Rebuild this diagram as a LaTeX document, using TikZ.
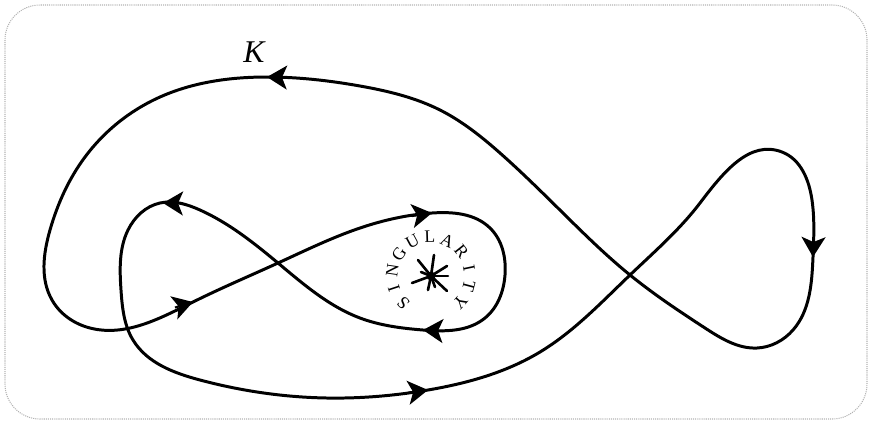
\documentclass[tikz,border=0pt]{standalone}
\usepackage{fontspec}
\setmainfont{Liberation Serif}
\usetikzlibrary{arrows.meta,hobby}

\begin{document}
\begin{tikzpicture}[x=0.02cm, y=-0.02cm,
    knot/.style={line width=1.7pt, line join=round},
    arrowmark/.style={line width=1.2pt, -{Stealth[length=0.4cm,width=0.48cm,inset=0.1cm]}},
    ray/.style={line width=1.5pt, line cap=round},
    letter/.style={font=\fontsize{10}{12}\selectfont, inner sep=-0.5pt}]
    \useasboundingbox (0,0) rectangle (872,424);
    % frame
    \draw[gray!60, line width=0.6pt, dash pattern=on 0.6pt off 0.6pt, rounded corners=0.7cm] (5,5) rectangle (867,419);
    % the curve K
    \draw[knot] plot[closed hobby] coordinates {
      (267,77) (160,97) (85,157) (50,230) (52,300) (90,328) (193,302) (278,263)
      (360,228) (432,213) (490,228) (505,275) (485,318) (423,330) (360,318) (278,263)
      (200,210) (160,203) (128,230) (121,290) (133,340) (200,380) (327,398) (428,390)
      (540,352) (630,275) (700,203) (782,152) (812,200) (813,257) (793,330) (757,348)
      (705,328) (630,275) (567,217) (500,153) (440,110) (360,86)};
    \node[font=\fontsize{18}{20}\selectfont\itshape] (klabel) at (254,52) {K};
    % arrow heads
    \foreach \ax/\ay/\bx/\by in {286/77.5/267/77, 175/307.5/193/302, 412/216/432/213,
        443/331/423/330, 183/203.4/163/203, 408/392.7/428/390, 813.5/237/813/257}
      \draw[arrowmark] (\ax,\ay) -- (\bx,\by);
    % singularity
    \coordinate (star) at (431,276);
    \foreach \p in {(418,260),(434,255),(447,266),(448,276),(447,291),(435,287),(428,290),(412,283),(421,272)}
      \draw[ray] (star) -- \p;
    \fill (star) circle (4.5);
    \foreach \ch [count=\k from 0] in {S,I,N,G,U,L,A,R,I,T,Y}
      \node[letter, rotate={135-26.65*\k}] (let\k) at ({431+39*cos(225-26.65*\k)},{276-39*sin(225-26.65*\k)}) {\ch};
\end{tikzpicture}
\end{document}
